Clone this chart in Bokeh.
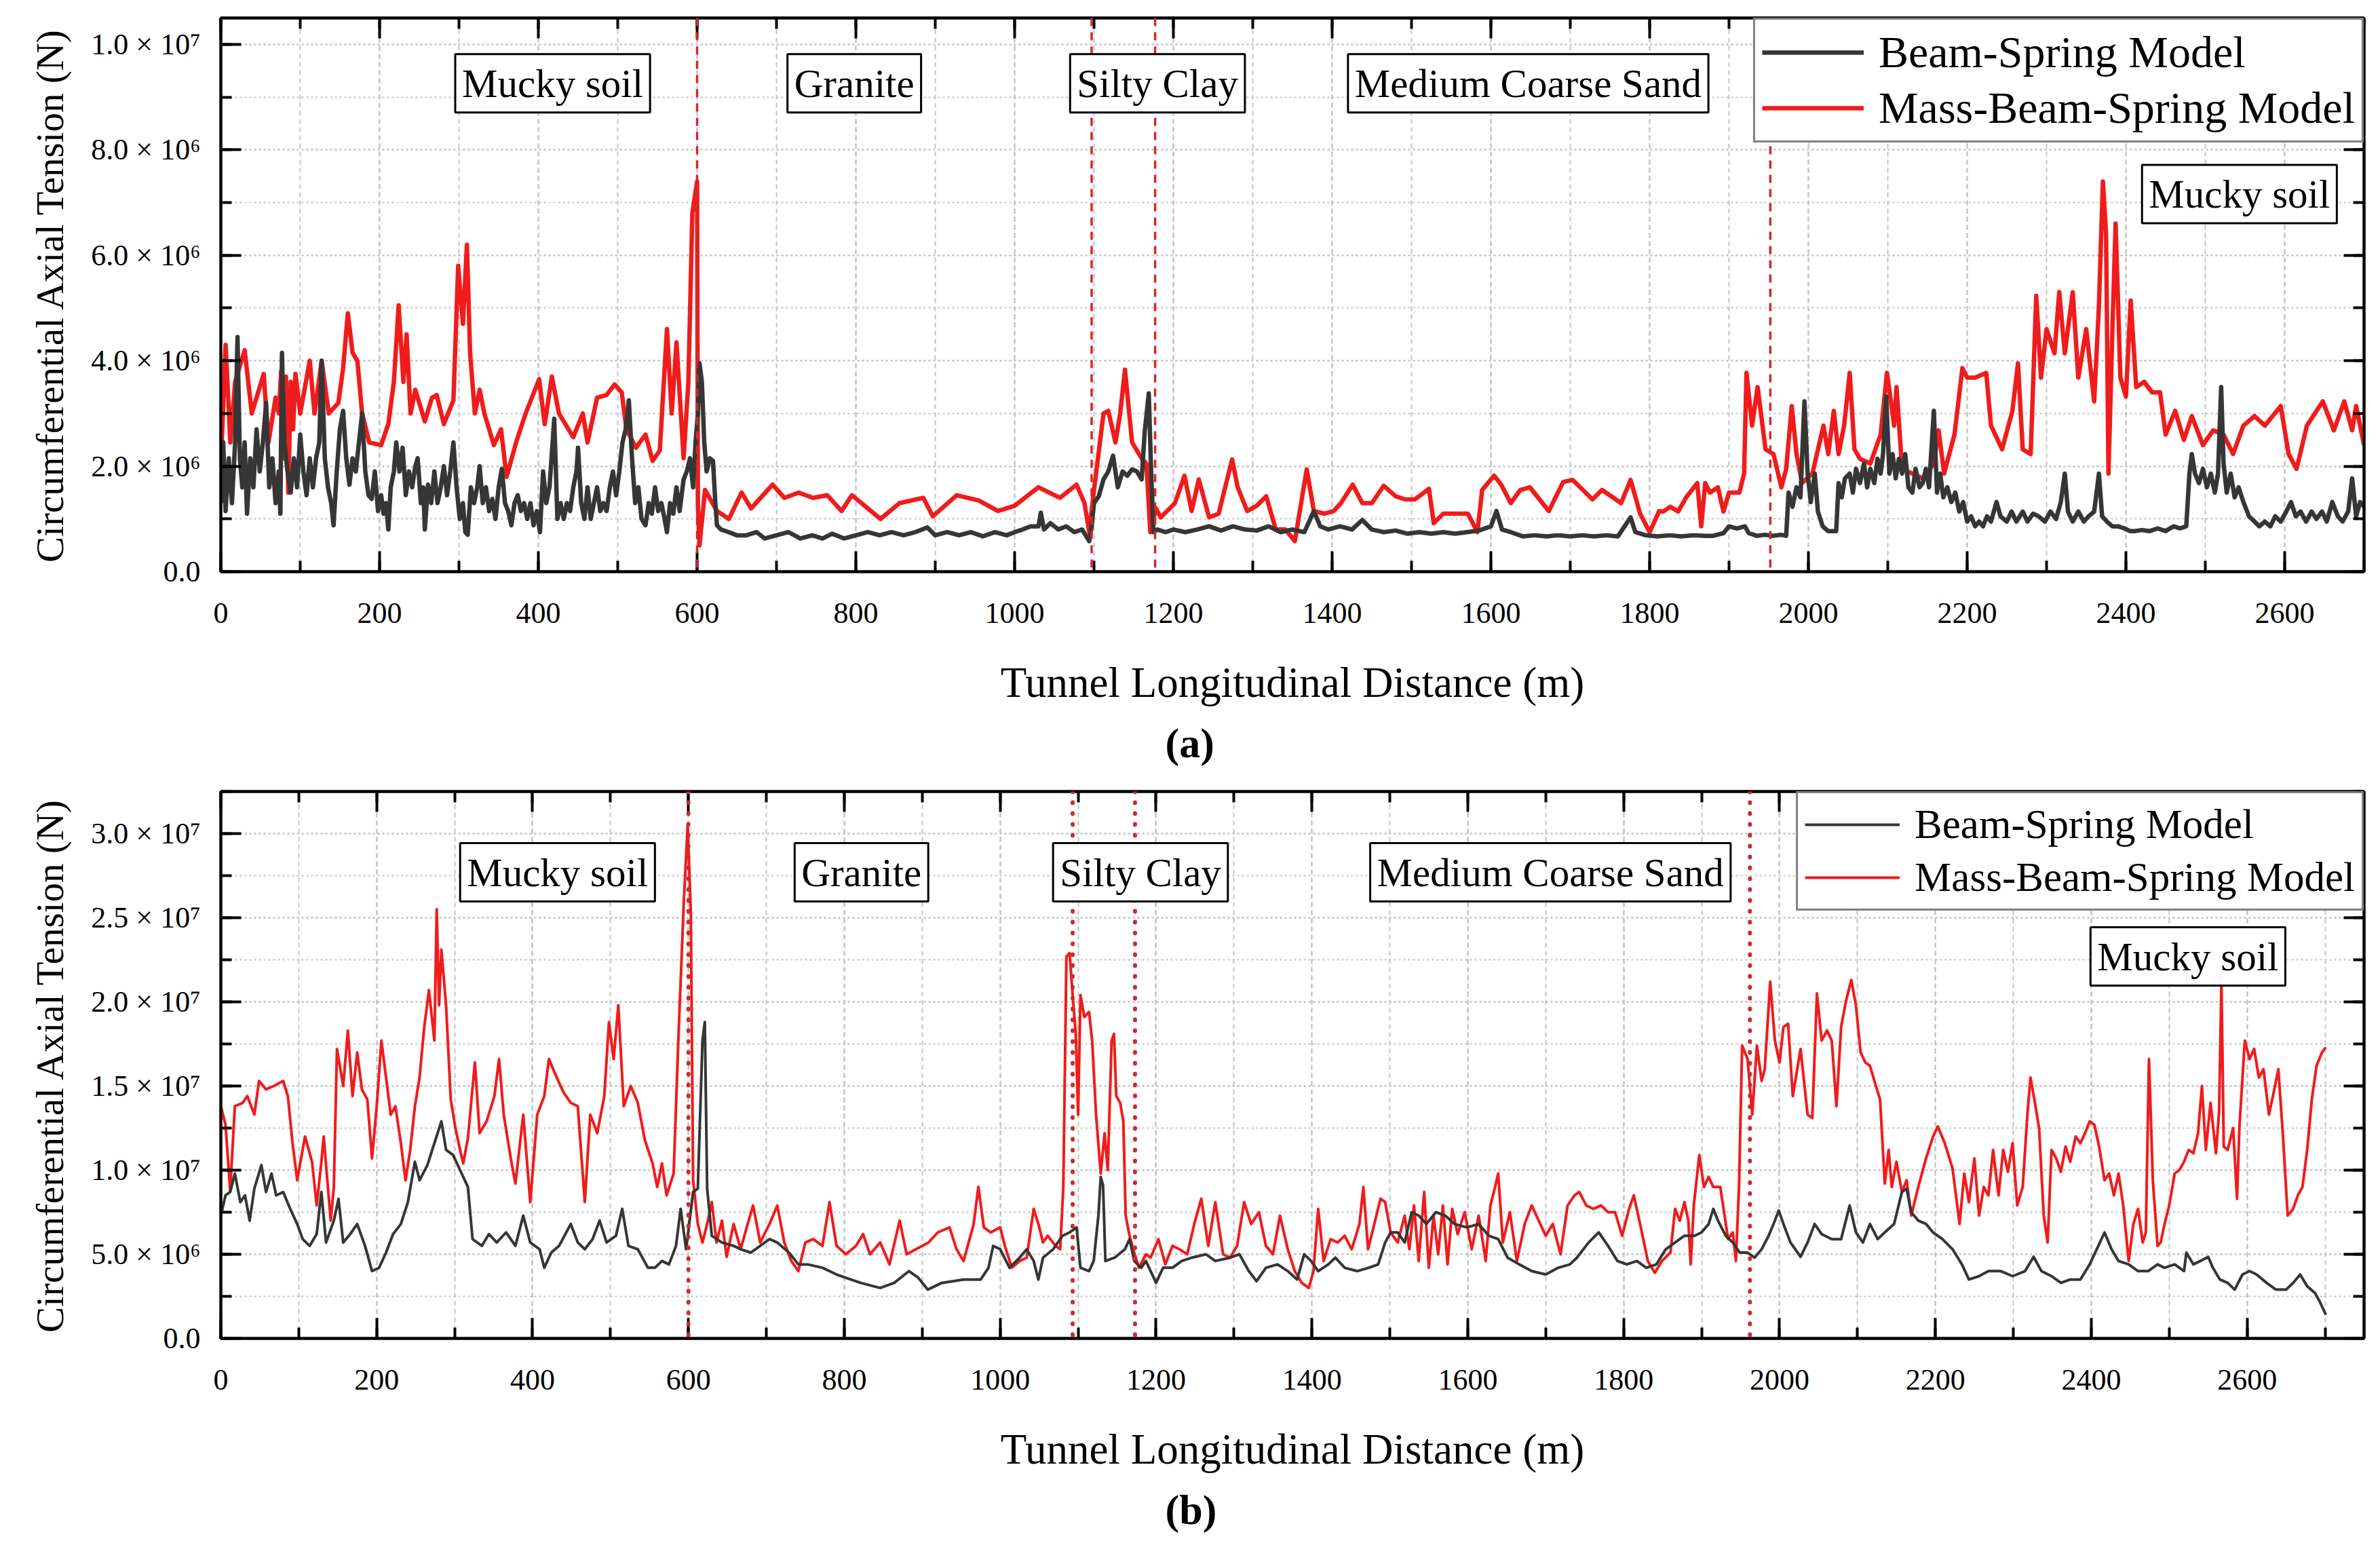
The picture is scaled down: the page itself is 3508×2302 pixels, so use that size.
from bokeh.plotting import figure
from bokeh.models import (Range1d, LinearAxis, SingleIntervalTicker, CustomJSTickFormatter,
                          Span, Label, Legend, LegendItem, Title, ColumnDataSource,
                          CustomLabelingPolicy)
from bokeh.layouts import column
from bokeh.embed import file_html
from bokeh.resources import INLINE

# ---------------- data (values in units of 1e6 N) ----------------
SCALE = 1e6

TOP_BLACK = [
(0,1.3),(3,2.45),(6,1.15),(10,2.15),(14,1.3),(18,2.45),(21,4.45),(24,2.15),(27,1.6),(30,2.45),
(33,1.1),(37,2.15),(41,1.6),(45,2.7),(49,1.9),(53,2.45),(57,3.2),(61,1.6),(65,2.15),(69,1.3),
(73,1.9),(75,1.1),(77,4.15),(80,2.45),(84,1.9),(88,1.5),(92,2.15),(96,1.6),(100,2.6),(104,1.9),
(108,1.45),(112,2.15),(116,1.6),(120,2.15),(124,2.45),(127,4.0),(131,2.15),(135,1.6),(139,1.3),(142,0.88),
(146,1.9),(150,2.7),(154,3.05),(158,2.15),(162,1.65),(166,2.15),(170,1.9),(174,2.45),(178,3.0),(182,1.9),
(186,1.45),(190,1.38),(194,1.9),(198,1.15),(202,1.45),(205,1.1),(208,1.3),(211,0.8),(214,1.6),(218,1.9),
(221,2.45),(225,1.9),(229,2.35),(233,1.45),(237,1.9),(241,1.6),(245,2.0),(248,2.15),(252,1.3),(255,1.6),
(257,0.8),(261,1.65),(265,1.3),(269,1.9),(273,1.3),(277,1.6),(281,2.0),(285,1.45),(289,1.9),(293,2.45),
(297,1.6),(301,1.0),(305,1.3),(308,0.75),(311,0.7),(315,1.6),(319,1.3),(323,1.6),(326,2.0),(330,1.3),
(334,1.6),(338,1.15),(342,1.38),(346,1.0),(350,1.6),(354,1.95),(358,1.3),(362,1.15),(366,0.88),(370,1.3),
(374,1.45),(378,1.15),(382,1.3),(386,1.0),(390,1.3),(394,0.88),(398,1.15),(402,0.75),(406,1.9),(410,1.3),
(414,1.6),(418,2.45),(420,2.9),(424,1.0),(428,1.3),(432,1.0),(436,1.3),(440,1.15),(444,1.6),(448,1.9),
(450,2.35),(454,1.3),(458,1.0),(462,1.6),(466,1.0),(470,1.3),(474,1.6),(478,1.15),(482,1.3),(486,1.15),
(490,1.6),(494,1.9),(498,1.45),(502,1.9),(506,2.45),(510,2.7),(514,3.25),(518,2.15),(522,1.3),(526,1.6),
(530,1.0),(535,0.88),(539,1.3),(543,1.1),(547,1.6),(551,1.15),(555,1.3),(559,1.0),(562,0.75),(566,1.3),
(570,1.1),(574,1.6),(578,1.15),(583,1.75),(587,1.9),(591,2.15),(595,1.6),(598,2.45),(601,3.0),(603,3.95),
(606,3.6),(609,2.45),(612,1.9),(616,2.15),(620,2.1),(623,1.3),(625,0.88),(630,0.8),(640,0.75),(650,0.69),
(662,0.69),(675,0.75),(685,0.63),(700,0.69),(715,0.75),(730,0.63),(745,0.69),(758,0.63),(770,0.72),(785,0.63),
(800,0.69),(815,0.75),(830,0.69),(845,0.75),(860,0.69),(875,0.75),(890,0.84),(900,0.69),(915,0.75),(930,0.69),
(945,0.75),(960,0.67),(975,0.75),(990,0.69),(1000,0.75),(1010,0.8),(1020,0.86),(1030,0.86),(1033,1.12),(1037,0.8),
(1045,0.92),(1055,0.8),(1065,0.86),(1075,0.75),(1085,0.8),(1094,0.58),(1097,0.86),(1100,1.3),(1106,1.43),(1112,1.75),
(1118,1.9),(1124,2.2),(1130,1.6),(1136,1.9),(1142,1.82),(1148,1.94),(1154,1.9),(1160,1.75),(1164,2.67),(1169,3.38),
(1172,1.9),(1175,0.75),(1180,0.8),(1190,0.75),(1200,0.8),(1215,0.75),(1230,0.8),(1245,0.86),(1260,0.78),(1275,0.86),
(1290,0.8),(1305,0.78),(1320,0.86),(1335,0.75),(1350,0.8),(1365,0.75),(1377,1.15),(1385,0.86),(1395,0.8),(1410,0.86),
(1425,0.8),(1438,0.98),(1450,0.8),(1465,0.75),(1480,0.78),(1495,0.72),(1510,0.75),(1525,0.72),(1540,0.75),(1555,0.72),
(1570,0.75),(1585,0.78),(1600,0.86),(1607,1.15),(1614,0.8),(1625,0.75),(1640,0.67),(1655,0.69),(1670,0.67),(1685,0.69),
(1700,0.67),(1715,0.69),(1730,0.67),(1745,0.69),(1760,0.67),(1776,1.03),(1782,0.75),(1795,0.69),(1810,0.67),(1825,0.69),
(1840,0.67),(1855,0.69),(1870,0.68),(1880,0.68),(1893,0.73),(1900,0.86),(1910,0.82),(1920,0.86),(1925,0.73),(1935,0.68),
(1945,0.7),(1955,0.68),(1965,0.7),(1972,0.68),(1975,1.5),(1980,1.23),(1985,1.6),(1990,1.41),(1995,3.23),(1999,1.86),
(2003,1.32),(2008,1.86),(2012,1.14),(2018,0.86),(2025,0.77),(2030,0.77),(2035,0.77),(2038,1.68),(2042,1.41),(2046,1.77),
(2052,1.86),(2056,1.5),(2060,1.95),(2065,1.68),(2070,2.05),(2074,1.6),(2078,1.95),(2083,1.68),(2087,2.14),(2091,1.86),
(2094,2.23),(2098,3.32),(2102,1.86),(2106,2.23),(2110,1.77),(2114,2.14),(2118,1.86),(2122,2.23),(2126,1.6),(2131,1.5),
(2135,1.95),(2140,1.6),(2144,1.68),(2148,1.95),(2152,1.6),(2158,3.05),(2162,1.5),(2166,1.86),(2170,1.41),(2175,1.6),
(2180,1.32),(2185,1.5),(2190,1.14),(2195,1.32),(2200,0.95),(2205,1.05),(2210,0.86),(2215,0.95),(2220,0.86),(2225,1.05),
(2230,0.95),(2237,1.32),(2242,1.05),(2250,0.95),(2256,1.14),(2262,0.95),(2270,1.14),(2276,0.95),(2283,1.1),(2290,1.05),
(2298,0.95),(2305,1.14),(2312,1.0),(2318,1.32),(2323,1.86),(2327,1.14),(2333,0.95),(2340,1.14),(2347,0.95),(2353,1.05),
(2360,1.14),(2366,1.86),(2370,1.05),(2376,0.95),(2383,0.86),(2390,0.86),(2398,0.82),(2405,0.77),(2412,0.77),(2420,0.79),
(2430,0.77),(2440,0.82),(2450,0.77),(2460,0.86),(2468,0.82),(2476,0.86),(2480,1.86),(2483,2.23),(2487,1.86),(2492,1.68),
(2497,1.95),(2502,1.6),(2507,1.86),(2512,1.5),(2516,1.86),(2520,3.5),(2523,2.05),(2527,1.5),(2532,1.86),(2537,1.41),
(2542,1.6),(2548,1.32),(2555,1.05),(2562,0.95),(2568,0.86),(2575,0.95),(2582,0.86),(2588,1.05),(2595,0.95),(2602,1.14),
(2608,1.32),(2614,1.05),(2620,1.14),(2627,0.95),(2634,1.14),(2640,1.0),(2647,1.14),(2653,0.95),(2660,1.32),(2667,1.05),
(2673,0.95),(2680,1.14),(2685,1.77),(2690,1.05),(2695,1.32),(2700,1.23),
]

TOP_RED = [
(0,2.0),(6,4.3),(12,2.45),(18,3.6),(30,4.2),(39,3.0),(54,3.75),(60,2.45),(69,3.3),(73,3.0),
(76,3.8),(79,2.15),(82,3.7),(85,1.5),(88,3.6),(91,2.7),(94,3.75),(100,3.0),(112,4.0),(118,3.0),
(127,4.0),(136,3.0),(148,3.2),(154,3.85),(160,4.9),(166,4.15),(172,4.0),(178,3.0),(187,2.45),(202,2.4),
(211,2.8),(218,3.6),(224,5.05),(230,3.6),(234,4.5),(239,3.0),(245,3.45),(257,2.85),(266,3.3),(272,3.35),
(281,2.8),(293,3.25),(299,5.8),(305,4.7),(310,6.2),(314,4.15),(320,3.0),(326,3.45),(332,3.0),(344,2.4),
(353,2.7),(360,1.8),(372,2.45),(384,3.0),(401,3.65),(408,2.8),(417,3.7),(426,3.0),(444,2.55),(456,3.0),
(462,2.45),(474,3.3),(486,3.35),(496,3.55),(505,3.4),(511,2.7),(523,2.35),(535,2.6),(544,2.1),(553,2.3),
(562,4.6),(568,3.0),(574,4.35),(583,2.15),(589,3.6),(594,6.8),(600,7.4),(601,1.3),(603,0.5),(610,1.55),
(625,1.15),(640,1.0),(656,1.5),(668,1.2),(695,1.65),(710,1.4),(728,1.5),(746,1.4),(764,1.45),(782,1.15),
(795,1.45),(831,1.0),(855,1.3),(885,1.4),(897,1.05),(927,1.45),(955,1.35),(979,1.15),(1000,1.25),(1030,1.6),
(1057,1.4),(1078,1.65),(1088,1.3),(1094,0.75),(1100,1.55),(1112,3.0),(1118,3.05),(1127,2.45),(1133,3.0),(1139,3.83),
(1148,2.45),(1160,2.15),(1166,2.05),(1171,0.75),(1178,1.2),(1184,1.03),(1202,1.3),(1214,1.82),(1223,1.15),(1232,1.75),
(1245,1.03),(1257,1.1),(1274,2.13),(1281,1.6),(1293,1.15),(1305,1.25),(1317,1.43),(1329,0.8),(1341,0.8),(1353,0.58),
(1368,1.94),(1377,1.15),(1390,1.1),(1402,1.15),(1411,1.3),(1426,1.65),(1438,1.3),(1450,1.3),(1465,1.63),(1480,1.43),
(1492,1.37),(1504,1.37),(1522,1.57),(1528,0.92),(1540,1.1),(1559,1.1),(1571,1.1),(1583,0.75),(1589,1.55),(1604,1.82),
(1613,1.65),(1625,1.3),(1637,1.55),(1649,1.6),(1673,1.15),(1691,1.7),(1703,1.74),(1728,1.37),(1740,1.55),(1764,1.3),
(1776,1.74),(1788,1.1),(1800,0.75),(1812,1.15),(1817,1.14),(1826,1.23),(1836,1.14),(1846,1.41),(1860,1.68),(1865,0.86),
(1870,1.68),(1876,1.5),(1886,1.6),(1893,1.14),(1900,1.5),(1913,1.5),(1919,1.86),(1922,3.77),(1929,2.77),(1936,3.5),
(1946,2.32),(1956,2.23),(1966,1.6),(1972,1.95),(1979,3.14),(1985,2.23),(1992,1.68),(2005,1.86),(2019,2.77),(2025,2.23),
(2032,3.05),(2038,2.23),(2045,2.77),(2052,3.77),(2058,2.32),(2065,2.14),(2078,2.05),(2091,2.6),(2099,3.77),(2108,2.77),
(2111,3.5),(2118,1.95),(2131,1.86),(2144,1.77),(2158,2.05),(2164,2.68),(2171,1.86),(2184,2.6),(2194,3.86),(2200,3.68),
(2210,3.68),(2224,3.77),(2230,2.77),(2244,2.32),(2257,3.05),(2264,3.95),(2270,2.32),(2280,2.23),(2287,5.23),(2293,3.68),
(2300,4.6),(2310,4.14),(2316,5.3),(2323,4.14),(2333,5.3),(2340,3.68),(2350,4.6),(2360,3.23),(2366,5.05),(2371,7.4),
(2375,6.4),(2378,1.86),(2383,4.6),(2387,6.6),(2393,3.68),(2400,3.32),(2406,5.14),(2413,3.5),(2423,3.6),(2433,3.4),
(2443,3.4),(2450,2.6),(2462,3.05),(2473,2.5),(2483,2.95),(2497,2.4),(2510,2.68),(2523,2.6),(2535,2.23),(2548,2.77),
(2562,2.95),(2575,2.77),(2595,3.14),(2605,2.23),(2615,1.95),(2628,2.77),(2648,3.23),(2662,2.68),(2675,3.23),(2685,2.68),
(2690,3.14),(2700,2.4),
]

BOTTOM_BLACK = [
(0,7.3),(6,8.5),(12,8.7),(18,9.8),(25,8.1),(31,8.5),(37,7.0),(43,8.9),(52,10.3),(58,8.7),
(65,9.8),(71,8.5),(80,8.7),(89,7.7),(98,6.8),(105,5.9),(114,5.5),(123,6.2),(129,8.7),(135,5.7),
(145,7.0),(151,8.3),(157,5.7),(166,6.2),(175,6.8),(185,5.5),(194,4.0),(203,4.2),(212,5.1),(221,6.2),
(231,6.8),(240,8.1),(249,10.5),(255,9.4),(265,10.3),(274,11.6),(283,12.9),(289,11.2),(298,10.9),(307,10.0),
(317,9.0),(323,5.9),(335,5.5),(344,6.2),(354,5.7),(366,6.3),(378,5.5),(388,7.3),(397,5.7),(409,5.3),
(415,4.2),(424,5.1),(434,5.5),(449,6.8),(458,5.7),(467,5.3),(477,5.9),(486,7.0),(495,5.7),(507,6.1),
(515,7.7),(523,5.5),(535,5.3),(548,4.2),(557,4.2),(566,4.6),(575,4.4),(584,5.5),(590,7.7),(597,5.3),
(606,8.7),(612,8.9),(618,17.7),(621,18.8),(624,8.9),(630,6.1),(643,5.7),(658,5.5),(667,5.3),(680,5.1),
(692,5.5),(704,5.9),(714,5.7),(729,5.1),(741,4.4),(753,4.4),(772,4.2),(790,3.8),(802,3.6),(821,3.3),
(846,3.0),(864,3.3),(883,4.0),(895,3.6),(907,2.9),(925,3.3),(953,3.5),(975,3.5),(985,4.2),(991,5.5),
(1000,5.3),(1012,4.2),(1025,4.8),(1034,5.3),(1043,4.6),(1049,3.5),(1055,4.8),(1068,5.3),(1080,6.1),(1089,6.3),
(1098,6.6),(1103,4.2),(1114,4.0),(1120,4.6),(1126,7.3),(1129,9.6),(1132,9.1),(1135,4.6),(1147,4.8),(1160,5.3),
(1166,5.9),(1172,4.6),(1181,4.2),(1187,4.6),(1200,3.3),(1209,4.2),(1221,4.2),(1233,4.6),(1246,4.8),(1264,5.0),
(1276,4.6),(1295,4.8),(1307,5.0),(1319,4.0),(1329,3.4),(1341,4.2),(1356,4.4),(1369,4.0),(1381,3.5),(1390,5.0),
(1399,4.6),(1408,4.0),(1421,4.4),(1430,4.8),(1442,4.2),(1458,4.0),(1473,4.2),(1485,4.4),(1494,5.7),(1501,6.3),
(1510,6.3),(1519,5.7),(1528,7.5),(1537,7.3),(1547,6.8),(1559,7.5),(1571,7.3),(1583,6.8),(1599,6.6),(1614,6.8),
(1627,6.1),(1639,5.9),(1651,4.8),(1666,4.4),(1682,4.0),(1700,3.8),(1716,4.2),(1731,4.4),(1740,4.8),(1755,5.7),
(1768,6.3),(1780,5.5),(1792,4.6),(1804,4.4),(1817,4.6),(1829,4.2),(1842,4.4),(1854,5.3),(1866,5.7),(1878,6.1),
(1891,6.1),(1900,6.3),(1909,6.8),(1915,7.7),(1921,7.0),(1931,6.1),(1940,5.7),(1949,5.1),(1959,5.1),(1968,4.8),
(1977,5.3),(1986,6.1),(1994,7.0),(1999,7.6),(2005,6.8),(2014,5.7),(2027,4.85),(2036,5.7),(2045,6.8),(2054,6.2),
(2067,5.9),(2079,5.9),(2090,7.9),(2098,6.3),(2107,5.7),(2116,6.8),(2126,5.9),(2135,6.3),(2147,6.8),(2157,8.7),
(2163,8.9),(2169,7.5),(2178,7.0),(2188,6.8),(2197,6.3),(2209,5.9),(2222,5.3),(2234,4.4),(2243,3.5),(2256,3.7),
(2268,4.0),(2284,4.0),(2299,3.7),(2315,4.0),(2326,4.85),(2336,4.0),(2349,3.7),(2361,3.3),(2373,3.5),(2386,3.5),
(2398,4.4),(2407,5.3),(2417,6.3),(2426,5.3),(2435,4.6),(2448,4.4),(2460,4.0),(2473,4.0),(2485,4.4),(2494,4.2),
(2507,4.4),(2519,4.0),(2522,5.1),(2531,4.4),(2540,4.6),(2550,4.85),(2556,4.2),(2565,3.5),(2575,3.3),(2584,2.9),
(2594,3.8),(2603,4.0),(2612,3.8),(2625,3.3),(2637,2.9),(2650,2.9),(2659,3.3),(2668,3.8),(2677,3.1),(2687,2.7),
(2693,2.2),(2701,1.4),
]

BOTTOM_RED = [
(0,13.8),(6,12.7),(12,8.8),(18,13.8),(28,14.0),(34,14.4),(43,13.3),(49,15.3),(58,14.8),(68,15.0),
(80,15.3),(86,14.4),(92,11.6),(98,9.4),(108,12.0),(117,10.5),(123,7.9),(129,10.5),(132,12.0),(135,10.3),
(141,7.0),(145,9.0),(149,17.2),(157,15.0),(163,18.3),(169,14.4),(175,17.0),(181,14.8),(188,14.2),(194,10.7),
(200,13.8),(206,17.7),(212,15.5),(218,13.3),(224,13.8),(231,11.6),(237,9.4),(243,11.2),(249,13.8),(255,15.5),
(261,18.5),(267,20.7),(274,17.7),(277,25.5),(280,19.8),(283,23.1),(289,19.8),(295,14.2),(301,12.5),(307,11.2),
(311,10.4),(317,11.9),(326,16.4),(332,12.2),(341,12.9),(351,14.4),(357,16.6),(363,13.3),(372,10.7),(378,9.2),
(388,13.3),(397,8.1),(406,13.3),(415,14.4),(421,16.6),(431,15.5),(440,14.6),(449,14.0),(458,13.8),(467,8.1),
(474,13.3),(483,12.2),(492,14.4),(498,18.8),(504,16.6),(510,19.8),(517,13.8),(526,15.0),(535,14.0),(544,11.8),
(554,10.4),(560,9.0),(566,10.4),(572,8.5),(581,9.8),(587,17.7),(594,25.9),(599,30.5),(603,25.4),(606,9.4),
(612,6.8),(618,5.7),(624,6.8),(630,8.1),(636,5.7),(643,7.0),(649,4.85),(658,6.8),(667,5.3),(676,6.8),
(683,7.9),(692,5.7),(704,6.8),(714,7.9),(723,5.7),(732,4.6),(741,4.0),(750,5.7),(760,5.9),(772,5.5),
(781,8.1),(790,5.5),(802,5.0),(815,5.5),(824,6.2),(833,5.0),(846,5.7),(858,4.4),(871,7.0),(880,5.0),
(892,5.3),(908,5.7),(920,6.3),(935,6.6),(944,5.3),(953,4.6),(966,6.8),(972,9.0),(979,6.6),(988,6.3),
(1000,6.6),(1006,5.5),(1015,4.2),(1025,4.6),(1034,4.8),(1043,7.7),(1049,6.8),(1055,5.7),(1061,6.1),(1071,5.5),
(1077,5.3),(1081,9.0),(1085,22.7),(1089,22.9),(1094,19.8),(1097,18.1),(1100,13.3),(1103,20.4),(1108,19.1),(1114,19.4),
(1118,17.7),(1123,13.3),(1129,9.8),(1134,12.2),(1138,10.0),(1143,17.7),(1146,18.1),(1149,14.4),(1154,14.0),(1158,12.9),
(1161,7.3),(1166,6.1),(1172,5.1),(1178,4.2),(1187,5.0),(1193,4.8),(1203,5.9),(1212,4.4),(1221,5.5),(1230,5.3),
(1240,5.0),(1249,6.8),(1258,8.3),(1267,5.5),(1276,8.1),(1286,5.0),(1295,4.8),(1304,5.5),(1313,8.1),(1322,6.8),
(1332,7.5),(1341,5.5),(1350,5.0),(1359,7.3),(1369,5.3),(1378,4.0),(1387,3.3),(1396,3.0),(1402,4.0),(1408,7.7),
(1415,4.6),(1424,5.9),(1433,5.7),(1442,6.1),(1451,5.3),(1461,6.8),(1466,9.0),(1472,5.3),(1479,6.6),(1488,8.3),
(1494,8.1),(1501,6.3),(1510,5.7),(1519,7.3),(1525,5.3),(1531,7.9),(1537,4.6),(1544,8.7),(1550,4.2),(1556,7.3),
(1562,5.0),(1568,7.9),(1574,4.4),(1580,7.7),(1587,6.2),(1596,7.5),(1605,5.3),(1614,7.3),(1623,4.6),(1629,7.9),
(1635,9.0),(1639,9.8),(1645,5.7),(1654,7.5),(1663,4.6),(1673,6.8),(1682,7.9),(1691,7.0),(1700,6.1),(1709,6.8),
(1719,5.0),(1728,7.9),(1737,8.5),(1743,8.7),(1752,7.9),(1761,7.7),(1771,7.9),(1780,7.5),(1789,7.5),(1798,6.1),
(1807,7.7),(1813,8.5),(1822,6.6),(1831,4.6),(1840,3.9),(1849,4.6),(1860,5.1),(1866,7.7),(1872,7.0),(1878,8.1),
(1883,7.0),(1886,4.4),(1890,7.9),(1897,10.9),(1903,9.0),(1909,9.6),(1915,9.0),(1924,9.0),(1934,5.9),(1940,6.3),
(1944,4.6),(1948,9.0),(1952,17.4),(1959,16.6),(1965,13.3),(1971,17.4),(1977,15.3),(1981,16.0),(1988,21.2),(1994,17.7),
(2000,16.4),(2005,18.5),(2011,18.7),(2017,14.4),(2027,17.2),(2036,13.3),(2042,13.1),(2048,20.5),(2054,17.7),(2061,18.3),
(2067,17.7),(2073,13.8),(2079,18.5),(2085,20.0),(2092,21.3),(2098,19.8),(2104,17.0),(2110,16.4),(2116,16.2),(2123,15.1),
(2129,14.2),(2135,9.2),(2140,11.2),(2144,9.0),(2150,10.5),(2157,8.7),(2163,9.4),(2169,7.3),(2178,9.0),(2188,10.7),
(2197,12.0),(2203,12.6),(2212,11.6),(2222,10.1),(2231,6.8),(2237,9.8),(2243,8.1),(2250,10.7),(2256,7.3),(2262,9.0),
(2268,8.5),(2274,11.2),(2281,8.5),(2287,11.2),(2293,9.9),(2299,11.6),(2305,7.9),(2312,9.0),(2318,13.3),(2322,15.5),
(2327,14.2),(2333,12.5),(2339,7.3),(2344,5.7),(2349,11.2),(2355,10.7),(2361,9.9),(2367,11.4),(2373,10.5),(2380,12.0),
(2386,11.6),(2392,12.2),(2398,12.9),(2404,12.7),(2410,11.4),(2417,9.4),(2423,9.8),(2429,8.5),(2435,9.8),(2441,7.9),
(2448,4.6),(2454,6.8),(2460,7.7),(2466,5.7),(2470,6.3),(2474,16.6),(2479,9.4),(2485,5.5),(2489,5.7),(2494,6.8),
(2500,7.9),(2507,9.8),(2513,10.0),(2519,10.5),(2525,11.2),(2531,11.0),(2537,12.2),(2542,15.0),(2547,11.2),(2553,14.0),
(2560,11.0),(2564,13.5),(2567,21.2),(2570,11.4),(2575,11.2),(2582,12.5),(2587,8.3),(2590,12.5),(2597,17.7),(2603,16.6),
(2609,17.2),(2615,15.5),(2621,16.0),(2628,13.3),(2634,14.6),(2640,16.0),(2646,12.0),(2652,7.3),(2659,7.7),(2665,8.5),
(2671,9.0),(2677,11.2),(2683,14.2),(2689,16.2),(2696,17.0),(2701,17.3),
]

# strata boundaries (m) and labels
TOP_BOUNDARIES = [600, 1097, 1177, 1952]
BOTTOM_BOUNDARIES = [600, 1093, 1173, 1962]
TOP_STRATA = [("Mucky soil", 418, 9.26), ("Granite", 798, 9.26), ("Silty Clay", 1180, 9.26),
              ("Medium Coarse Sand", 1647, 9.26), ("Mucky soil", 2543, 7.16)]
BOTTOM_STRATA = [("Mucky soil", 432, 27.7), ("Granite", 822, 27.7), ("Silty Clay", 1180, 27.7),
                 ("Medium Coarse Sand", 1706, 27.7), ("Mucky soil", 2524, 22.7)]
SERIES_NAMES = ["Beam-Spring Model", "Mass-Beam-Spring Model"]

FONT = "Liberation Serif"
BLACK = "#363636"
RED = "#f01c1c"
LINE_RED = "#d02a2a"

FMT = CustomJSTickFormatter(code="""
if (Math.abs(tick) < 1e-9) { return "0.0"; }
var e = Math.floor(Math.log10(Math.abs(tick)) + 1e-9);
var m = tick / Math.pow(10, e);
var sup = ["\u2070","\u00b9","\u00b2","\u00b3","\u2074","\u2075","\u2076","\u2077","\u2078","\u2079"];
var s = String(e).split("").map(function(c){ return sup[parseInt(c)]; }).join("");
return m.toFixed(1) + " \u00d7 10" + s;
""")

NO_LABELS = CustomLabelingPolicy(code="""
for (const i of indices)
  indices.unset(i)
""")
EMPTY_FMT = CustomJSTickFormatter(code="return '';")


def style_axis(ax, ticker, labels=True):
    ax.ticker = ticker
    ax.axis_line_width = 4
    ax.axis_line_color = "black"
    ax.major_tick_in = 30
    ax.major_tick_out = 0
    ax.minor_tick_in = 16
    ax.minor_tick_out = 0
    ax.major_tick_line_width = 4
    ax.minor_tick_line_width = 4
    ax.major_tick_line_color = "black"
    ax.minor_tick_line_color = "black"
    if labels:
        ax.major_label_text_font = FONT
        ax.major_label_text_font_size = "44px"
        ax.major_label_text_color = "black"
    else:
        ax.formatter = EMPTY_FMT
        ax.major_label_policy = NO_LABELS
        ax.major_label_text_font_size = "4px"
        ax.major_label_standoff = 0


def make_panel(black, red, xmax, ymax, ystep, boundaries, dash, cap, dash_w, strata,
               letter, height, top_border, bottom_border, lw, legend_font, glyph_w):
    p = figure(width=3492, height=height, x_range=Range1d(0, xmax), y_range=Range1d(0, ymax),
               output_backend="svg", toolbar_location=None,
               min_border_left=325, min_border_right=8, min_border_top=top_border,
               min_border_bottom=bottom_border)
    p.background_fill_color = "white"
    p.border_fill_color = "white"
    p.outline_line_color = "black"
    p.outline_line_width = 4

    xt = SingleIntervalTicker(interval=200, num_minor_ticks=2)
    yt = SingleIntervalTicker(interval=ystep, num_minor_ticks=2)

    style_axis(p.xaxis[0], xt)
    style_axis(p.yaxis[0], yt)
    p.yaxis[0].formatter = FMT
    p.xaxis[0].major_label_standoff = 46
    p.yaxis[0].major_label_standoff = 30
    p.xaxis[0].axis_label = "Tunnel Longitudinal Distance (m)"
    p.yaxis[0].axis_label = "Circumferential Axial Tension (N)"
    p.xaxis[0].axis_label_text_font_size = "63px"
    p.yaxis[0].axis_label_text_font_size = "57px"
    for ax in (p.xaxis[0], p.yaxis[0]):
        ax.axis_label_text_font = FONT
        ax.axis_label_text_font_style = "normal"
        ax.axis_label_text_color = "black"
    p.xaxis[0].axis_label_standoff = 50
    p.yaxis[0].axis_label_standoff = 26

    top_ax = LinearAxis()
    right_ax = LinearAxis()
    style_axis(top_ax, SingleIntervalTicker(interval=200, num_minor_ticks=2), labels=False)
    style_axis(right_ax, SingleIntervalTicker(interval=ystep, num_minor_ticks=2), labels=False)
    p.add_layout(top_ax, "above")
    p.add_layout(right_ax, "right")

    for g, d in ((p.xgrid[0], "7 5"), (p.ygrid[0], "3 4")):
        g.grid_line_color = "#c4c4c4"
        g.grid_line_width = 2
        g.grid_line_dash = d
        g.minor_grid_line_color = "#c4c4c4"
        g.minor_grid_line_width = 2
        g.minor_grid_line_dash = d

    sb = ColumnDataSource(dict(x=[a for a, b in black], y=[b * SCALE for a, b in black]))
    sr = ColumnDataSource(dict(x=[a for a, b in red], y=[b * SCALE for a, b in red]))
    rr = p.line("x", "y", source=sr, line_color=RED, line_width=lw, line_join="round")
    rb = p.line("x", "y", source=sb, line_color=BLACK, line_width=lw, line_join="round")

    for loc in boundaries:
        p.add_layout(Span(location=loc, dimension="height", line_color=LINE_RED,
                          line_width=dash_w, line_dash=dash, line_cap=cap))

    for txt, xm, yv in strata:
        p.add_layout(Label(x=xm, y=yv * SCALE, text=txt, text_align="center", text_baseline="middle",
                           text_font=FONT, text_font_size="59px", text_color="black",
                           border_line_color="black", border_line_width=3,
                           background_fill_color="white", background_fill_alpha=1.0, padding=10))

    leg = Legend(items=[LegendItem(label=SERIES_NAMES[0], renderers=[rb]),
                        LegendItem(label=SERIES_NAMES[1], renderers=[rr])],
                 location="top_right", margin=0, padding=10, spacing=6,
                 glyph_width=glyph_w, glyph_height=72, label_height=72, label_standoff=22,
                 label_text_font=FONT, label_text_font_size=legend_font, label_text_color="black",
                 border_line_color="black", border_line_width=3,
                 background_fill_color="white", background_fill_alpha=1.0)
    p.add_layout(leg, "center")

    p.add_layout(Title(text=letter, align="left", offset=1392, text_font=FONT,
                       text_font_size="62px", text_font_style="bold", text_color="black",
                       standoff=30), "below")
    return p


p1 = make_panel(TOP_BLACK, TOP_RED, 2700, 1.05e7, 2e6, TOP_BOUNDARIES, "12 9", "butt", 3.5,
                TOP_STRATA, "(a)", 1143, 26, 301, 6.5, "66px", 150)
p2 = make_panel(BOTTOM_BLACK, BOTTOM_RED, 2750, 3.25e7, 5e6, BOTTOM_BOUNDARIES, "1 15", "round", 6,
                BOTTOM_STRATA, "(b)", 1143, 23, 314, 4.0, "61px", 140)

layout = column(p1, p2)
open("out.html", "w", encoding="utf-8").write(file_html(layout, INLINE))
